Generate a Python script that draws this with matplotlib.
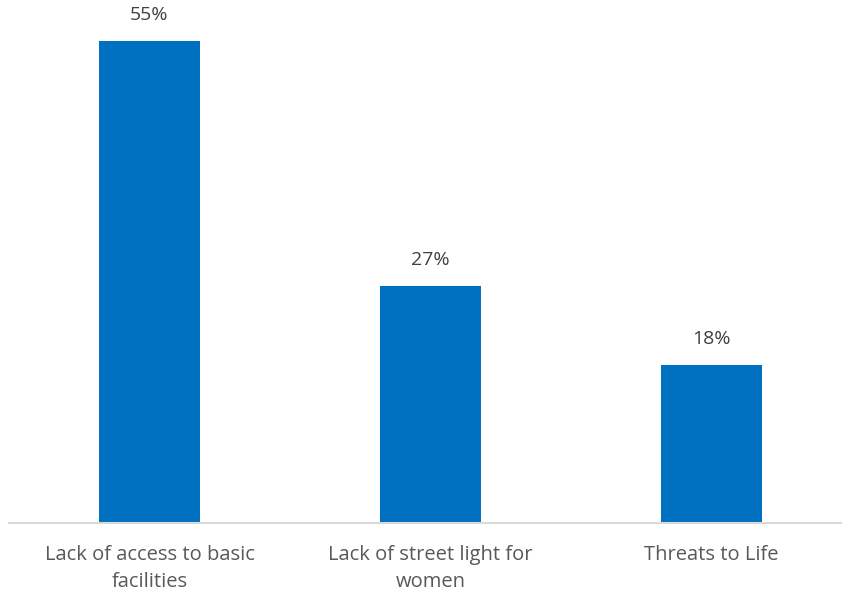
import matplotlib
matplotlib.use("Agg")
import matplotlib.pyplot as plt

categories = ["Lack of access to basic\nfacilities", "Lack of street light for\nwomen", "Threats to Life"]
values = [55, 27, 18]
labels = ["55%", "27%", "18%"]

plt.rcParams['font.family'] = ['Open Sans', 'DejaVu Sans']

fig = plt.figure(figsize=(8.42, 5.95), dpi=100)
# axis baseline at y=523px, bar top (55) at y=41px, category pitch 281px
ax = fig.add_axes([9/842, (595-523)/595, 843/842, 482/595])

x = range(len(categories))
ax.bar(x, values, width=0.356, color="#0070C0", zorder=2)
for xi, v, lab in zip(x, values, labels):
    ax.annotate(lab, (xi, v), xytext=(0, 12.5), textcoords="offset points",
                ha="center", va="bottom", fontsize=14, color="#404040",
                annotation_clip=False)

ax.set_xlim(-0.5, 2.5)
ax.set_ylim(0, 55)
ax.set_xticks(list(x))
ax.set_xticklabels(categories, fontsize=14.5, color="#595959", linespacing=1.45)
ax.tick_params(axis="x", length=0, pad=16)
ax.set_yticks([])
for s in ["top", "right", "left"]:
    ax.spines[s].set_visible(False)
ax.spines["bottom"].set_color("#D9D9D9")
ax.spines["bottom"].set_linewidth(1.5)

fig.savefig("out.png", dpi=100)
